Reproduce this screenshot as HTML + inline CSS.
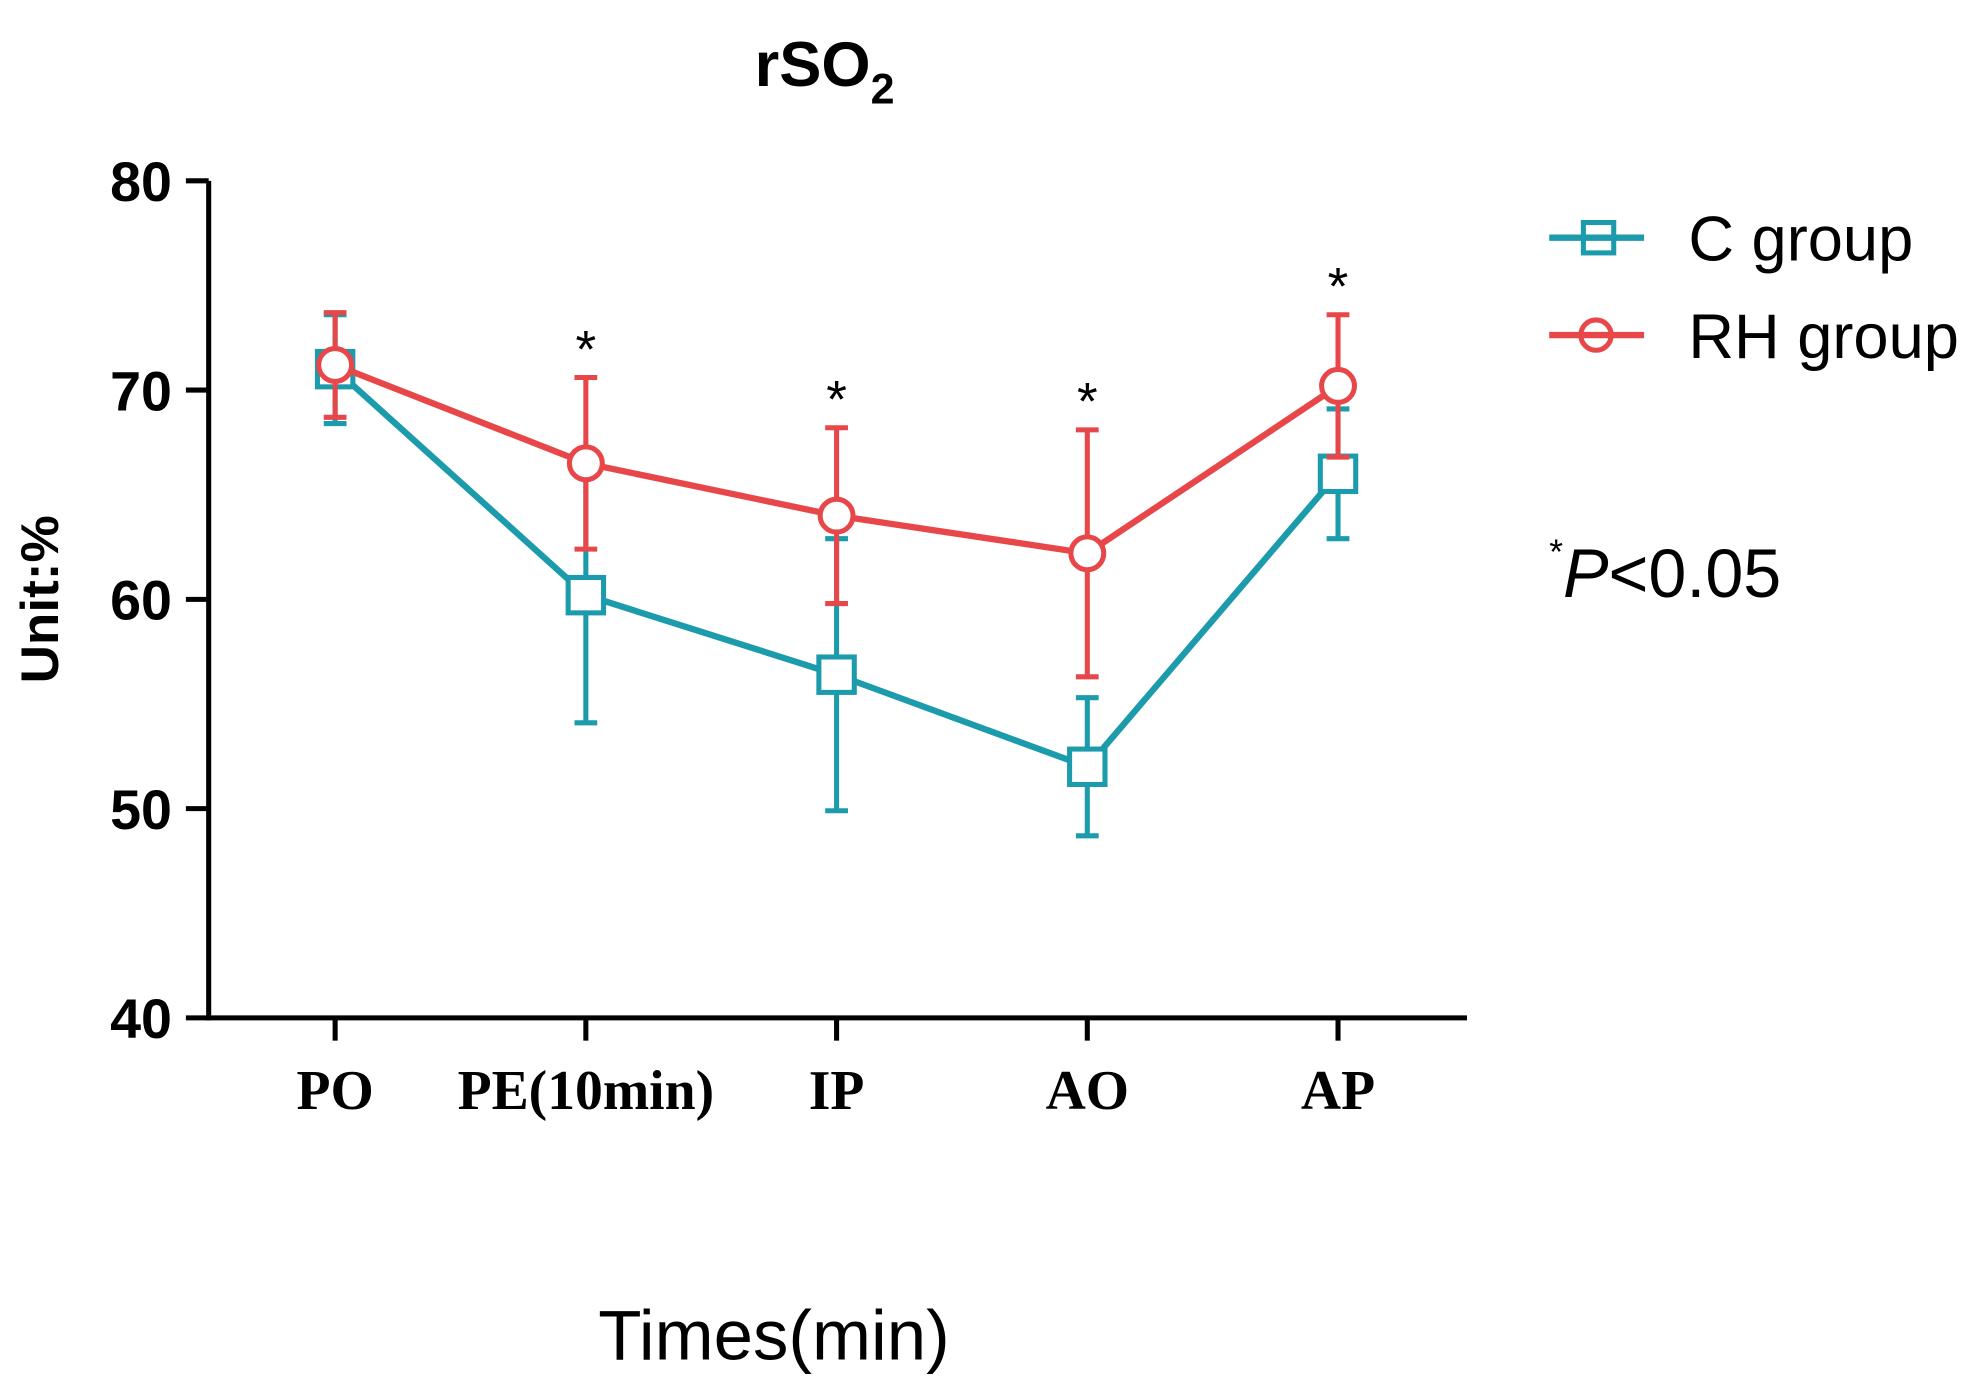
<!DOCTYPE html>
<html><head><meta charset="utf-8"><style>
html,body{margin:0;padding:0;background:#fff;}
svg{display:block;font-family:"Liberation Sans",sans-serif;}
</style></head><body>
<svg id="chart" width="1983" height="1377" viewBox="0 0 1568 1089" preserveAspectRatio="none">
<text x="652" y="68" text-anchor="middle" font-size="50" font-weight="bold">rSO<tspan font-size="34" dy="14">2</tspan></text>
<g id="axes"></g>
<g id="series"></g>
<text transform="translate(46,474) rotate(-90)" text-anchor="middle" font-size="42" font-weight="bold">Unit:%</text>
<text x="612" y="1075" text-anchor="middle" font-size="56">Times(min)</text>
<g>
<g>
<line x1="1225" y1="188" x2="1300" y2="188" stroke="#1b9bab" stroke-width="5"/>
<rect x="1252" y="176" width="24" height="24" fill="none" stroke="#1b9bab" stroke-width="4"/>
<text x="1335" y="206" font-size="50">C group</text></g>
<g>
<line x1="1225" y1="265" x2="1300" y2="265" stroke="#e8474a" stroke-width="5"/>
<circle cx="1262" cy="265" r="12" fill="none" stroke="#e8474a" stroke-width="4"/>
<text x="1335" y="283" font-size="50">RH group</text></g>
</g>
<text x="1225" y="472" font-size="54"><tspan font-size="28" dy="-26">*</tspan><tspan dy="26" font-style="italic">P</tspan>&lt;0.05</text>
</svg>
<script>
const categories=["PO","PE(10min)","IP","AO","AP"];
const cValues=[71.0,60.2,56.4,52.0,66.0];
const cErr=[2.6,6.1,6.5,3.3,3.1];
const rhValues=[71.2,66.5,64.0,62.2,70.2];
const rhErr=[2.5,4.1,4.2,5.9,3.4];
const significant=[false,true,true,true,true];
const yTicks=[40,50,60,70,80];
const NS="http://www.w3.org/2000/svg";
function x(i){return 265+(1058-265)*i/(categories.length-1);}
function y(v){return 805-(v-40)*(805-143)/40;}
function mk(tag,attrs,parent){const e=document.createElementNS(NS,tag);for(const k in attrs)e.setAttribute(k,attrs[k]);parent.appendChild(e);return e;}
const axes=document.getElementById('axes'),ser=document.getElementById('series');
let a=mk('line',{x1:165,y1:y(80),x2:165,y2:y(40)+2,stroke:'#000','stroke-width':4},axes);


a=mk('line',{x1:163,y1:y(40),x2:1160,y2:y(40),stroke:'#000','stroke-width':4},axes);


yTicks.forEach(v=>{
 const t=mk('line',{x1:147,y1:y(v),x2:165,y2:y(v),stroke:'#000','stroke-width':4},axes);
 
 
 const l=mk('text',{x:136,y:y(v)+16,'text-anchor':'end','font-size':44,'font-weight':'bold'},axes);
 l.textContent=v;
 
 
});
categories.forEach((c,i)=>{
 const t=mk('line',{x1:x(i),y1:y(40),x2:x(i),y2:y(40)+18,stroke:'#000','stroke-width':4},axes);
 
 
 const l=mk('text',{x:x(i),y:877,'text-anchor':'middle','font-size':44,'font-weight':'bold','font-family':'Liberation Serif, serif'},axes);
 l.textContent=c;
 
 
 if(significant[i]){
  const top=Math.max(cValues[i]+cErr[i],rhValues[i]+rhErr[i]);
  const s=mk('text',{x:x(i),y:y(top)-8,'text-anchor':'middle','font-size':42},axes);
  s.textContent='*';
  
  
 }
});
function drawSeries(vals,errs,color,shape,name){
 const g=mk('g',{},ser);
 
 
 vals.forEach((v,i)=>{
  const e=mk('path',{d:`M${x(i)},${y(v+errs[i])}V${y(v-errs[i])}M${x(i)-9},${y(v+errs[i])}H${x(i)+9}M${x(i)-9},${y(v-errs[i])}H${x(i)+9}`,stroke:color,'stroke-width':4,fill:'none'},g);
  
  
 });
 const ln=mk('polyline',{points:vals.map((v,i)=>x(i)+','+y(v)).join(' '),fill:'none',stroke:color,'stroke-width':5},g);
 
 
 vals.forEach((v,i)=>{
  let m;
  if(shape==='sq') m=mk('rect',{x:x(i)-14,y:y(v)-14,width:28,height:28,fill:'#fff',stroke:color,'stroke-width':4},g);
  else m=mk('circle',{cx:x(i),cy:y(v),r:13,fill:'#fff',stroke:color,'stroke-width':4},g);
  
  
 });
}
drawSeries(cValues,cErr,'#1b9bab','sq','c-group');
drawSeries(rhValues,rhErr,'#e8474a','ci','rh-group');
</script>
</body></html>
